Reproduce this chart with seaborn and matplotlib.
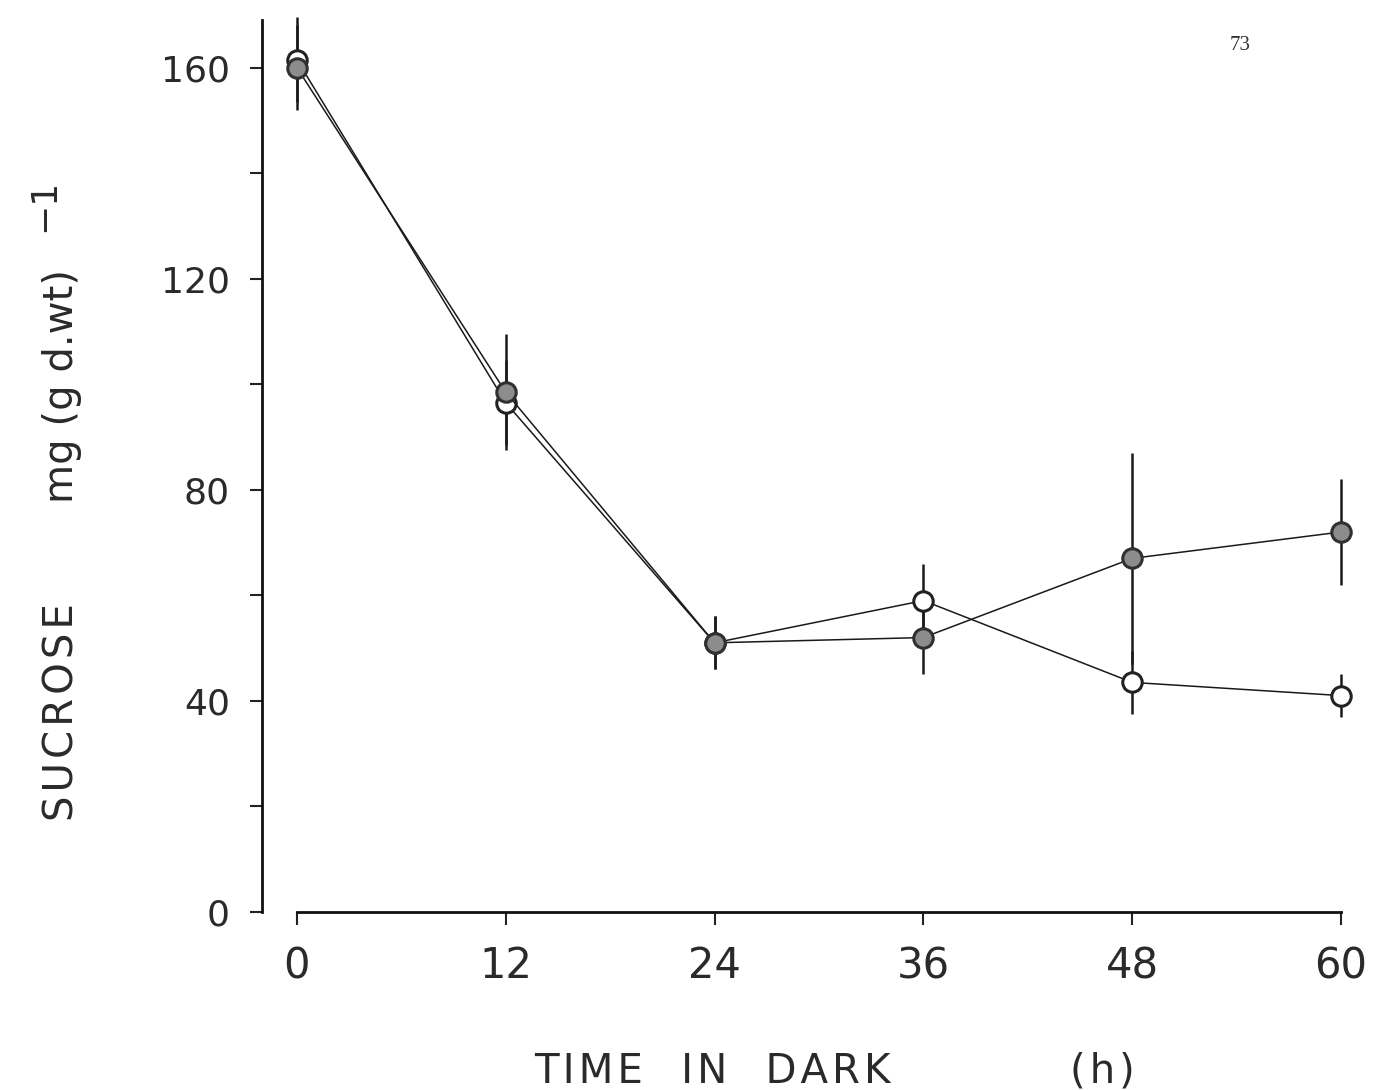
import numpy as np
import pandas as pd
import matplotlib
matplotlib.use("Agg")
import matplotlib.pyplot as plt
import seaborn as sns

# Data
hours = [0, 12, 24, 36, 48, 60]
open_mean = [161.5, 96.5, 51, 59, 43.5, 41]
open_err = [8, 8, 5, 7, 6, 4]
filled_mean = [160, 98.5, 51, 52, 67, 72]
filled_err = [8, 11, 5, 7, 20, 10]
x_ticks = [0, 12, 24, 36, 48, 60]
y_ticks = [0, 20, 40, 60, 80, 100, 120, 140, 160]
y_ticklabels = ["0", "", "40", "", "80", "", "120", "", "160"]

df = pd.DataFrame({
    "hours": hours * 2,
    "sucrose": open_mean + filled_mean,
    "err": open_err + filled_err,
    "series": ["open"] * len(hours) + ["filled"] * len(hours),
})

sns.set_theme(style="white")
plt.rcParams["font.family"] = ["DejaVu Sans"]

HS = "\u200a"  # hair space for the slightly wide lettering of the original


def spaced(s):
    return HS.join(s)


W, H = 1378, 1090
fig = plt.figure(figsize=(W / 100, H / 100), dpi=100)
left_px, right_px, bottom_px, top_px = 262, 1362, 912, 20
ax = fig.add_axes([left_px / W, (H - bottom_px) / H,
                   (right_px - left_px) / W, (bottom_px - top_px) / H])

line_col = "#1a1a1a"
for name, fc, ec in [("open", "white", "#222222"), ("filled", "#8c8c8c", "#303030")]:
    sub = df[df["series"] == name]
    ax.errorbar(sub["hours"], sub["sucrose"], yerr=sub["err"], fmt="none",
                ecolor=line_col, elinewidth=1.8, capsize=0, zorder=2, clip_on=False)
    sns.lineplot(data=sub, x="hours", y="sucrose", ax=ax, color=line_col,
                 linewidth=1.1, marker="o", markersize=14, markerfacecolor=fc,
                 markeredgecolor=ec, markeredgewidth=2.2, zorder=3, clip_on=False,
                 legend=False)

ax.set_xlim(-2, 61.2)
ax.set_ylim(0, 169)

for s in ["top", "right"]:
    ax.spines[s].set_visible(False)
ax.spines["left"].set_bounds(0, 169)
ax.spines["bottom"].set_bounds(0, 60)
for s in ["left", "bottom"]:
    ax.spines[s].set_color("#111111")
    ax.spines[s].set_linewidth(2.0)

ax.set_xticks(x_ticks)
ax.set_xticklabels([str(v) for v in x_ticks])
ax.set_yticks(y_ticks)
ax.set_yticklabels(y_ticklabels)
ax.tick_params(axis="both", which="major", direction="out", length=9, width=1.5,
               color="#222222", labelcolor="#2a2a2a")
ax.tick_params(axis="y", left=True, pad=14, labelsize=26)
ax.tick_params(axis="x", bottom=True, pad=15, labelsize=30)

ax.set_xlabel("")
ax.set_ylabel("")
txt = dict(fontsize=29, color="#2a2a2a", va="center")
fig.text(712 / W, 1 - 1072 / H, "   ".join(spaced(w) for w in ["TIME", "IN", "DARK"]),
         ha="center", **txt)
fig.text(1102 / W, 1 - 1072 / H, spaced("(h)"), ha="center", **txt)
fig.text(62 / W, 1 - 712 / H, spaced("SUCROSE"), rotation=90, ha="center", **txt)
fig.text(62 / W, 1 - 386 / H, "mg (g d.wt)", rotation=90, ha="center", **txt)
fig.text(44 / W, 1 - 205 / H, "\u22121", rotation=90, ha="center",
         fontsize=26, color="#2a2a2a", va="center")
fig.text(1240 / W, 1 - 45 / H, "73", ha="center", va="center", fontsize=15,
         family="Liberation Serif", color="#333333")

fig.savefig("out.png", dpi=100)
